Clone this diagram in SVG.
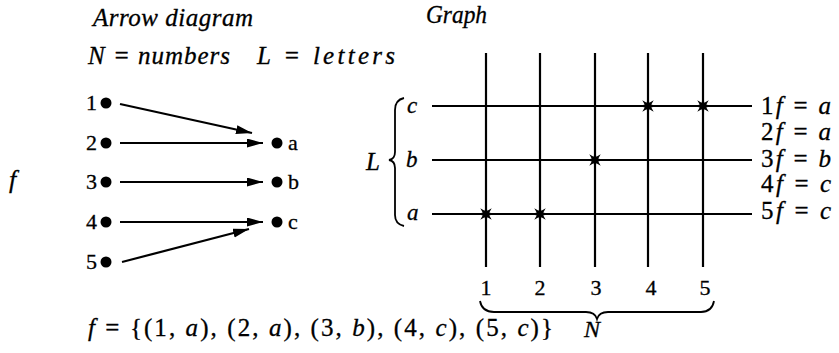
<svg xmlns="http://www.w3.org/2000/svg" width="839" height="353" viewBox="0 0 839 353" font-family="'Liberation Serif', 'Times New Roman', Times, serif">
<style>
text{fill:#000;stroke:#000;stroke-width:0.3}
.it{font-style:italic}
.t{font-size:25px}
.lbl{font-size:22px}
.dot{fill:#000}
.ln{stroke:#000;stroke-width:2.2;fill:none}
.arr{stroke:#000;stroke-width:2.2;fill:none;marker-end:url(#ah)}
.br{stroke:#000;stroke-width:1.8;fill:none}
</style>
<defs>
<marker id="ah" markerUnits="userSpaceOnUse" markerWidth="18" markerHeight="10" refX="16" refY="4.5" orient="auto">
<path d="M0,0 L16,4.5 L0,9 Z" fill="#000"/>
</marker>
<path id="star" d="M8,0 L3.3,1.4 L5.7,5.7 L1.4,3.3 L0,8 L-1.4,3.3 L-5.7,5.7 L-3.3,1.4 L-8,0 L-3.3,-1.4 L-5.7,-5.7 L-1.4,-3.3 L0,-8 L1.4,-3.3 L5.7,-5.7 L3.3,-1.4 Z" fill="#000"/>
</defs>

<g id="titles">
<text class="it t" x="93" y="26" textLength="160" lengthAdjust="spacing">Arrow diagram</text>
<text class="it t" x="426" y="23" textLength="61" lengthAdjust="spacingAndGlyphs">Graph</text>
<text class="it t" x="88" y="64" textLength="142" lengthAdjust="spacing">N = numbers</text>
<text class="it t" x="257" y="64" textLength="138" lengthAdjust="spacing">L = letters</text>
<text class="it" x="9" y="188" font-size="26">f</text>
</g>

<g id="n1"><text class="lbl" x="97" y="110" text-anchor="end">1</text><circle class="dot" cx="106" cy="103" r="5.5"/></g>
<g id="n2"><text class="lbl" x="97" y="150" text-anchor="end">2</text><circle class="dot" cx="106" cy="143" r="5.5"/></g>
<g id="n3"><text class="lbl" x="97" y="189" text-anchor="end">3</text><circle class="dot" cx="106" cy="182" r="5.5"/></g>
<g id="n4"><text class="lbl" x="97" y="229" text-anchor="end">4</text><circle class="dot" cx="106" cy="222" r="5.5"/></g>
<g id="n5"><text class="lbl" x="97" y="269" text-anchor="end">5</text><circle class="dot" cx="106" cy="262" r="5.5"/></g>
<g id="la"><circle class="dot" cx="277" cy="143" r="5.5"/><text class="lbl" x="288" y="150">a</text></g>
<g id="lb"><circle class="dot" cx="277" cy="182" r="5.5"/><text class="lbl" x="288" y="189">b</text></g>
<g id="lc"><circle class="dot" cx="277" cy="222" r="5.5"/><text class="lbl" x="288" y="229">c</text></g>

<g id="connectors">
<line class="arr" x1="120" y1="104" x2="252" y2="133"/>
<line class="arr" x1="120" y1="143" x2="263" y2="143"/>
<line class="arr" x1="120" y1="182" x2="263" y2="182"/>
<line class="arr" x1="120" y1="222" x2="263" y2="222"/>
<line class="arr" x1="122" y1="262" x2="249" y2="229"/>
</g>

<g id="graph">
<g id="grid">
<line class="ln" x1="486" y1="53" x2="486" y2="267"/>
<line class="ln" x1="540" y1="53" x2="540" y2="267"/>
<line class="ln" x1="595" y1="53" x2="595" y2="267"/>
<line class="ln" x1="648" y1="53" x2="648" y2="267"/>
<line class="ln" x1="703" y1="53" x2="703" y2="267"/>
<line class="ln" x1="432" y1="106" x2="752" y2="106"/>
<line class="ln" x1="432" y1="160" x2="752" y2="160"/>
<line class="ln" x1="432" y1="214" x2="752" y2="214"/>
</g>
<g id="marks">
<use href="#star" x="648" y="106"/>
<use href="#star" x="703" y="106"/>
<use href="#star" x="595" y="160"/>
<use href="#star" x="486" y="214"/>
<use href="#star" x="540" y="214"/>
</g>
<g id="ylabels">
<text class="it" x="407" y="113" font-size="23">c</text>
<text class="it" x="406" y="167" font-size="23">b</text>
<text class="it" x="407" y="220" font-size="23">a</text>
<text class="it" x="366" y="170" font-size="25">L</text>
<path class="br" d="M404,98 Q395,100 395,110 L395,152 Q395,159 389,160 Q395,161 395,168 L395,215 Q395,224 404,226"/>
</g>
<g id="xlabels">
<text class="lbl" x="486" y="295" text-anchor="middle">1</text>
<text class="lbl" x="540" y="295" text-anchor="middle">2</text>
<text class="lbl" x="596" y="295" text-anchor="middle">3</text>
<text class="lbl" x="651" y="295" text-anchor="middle">4</text>
<text class="lbl" x="705" y="295" text-anchor="middle">5</text>
<path class="br" d="M480,301 Q482,312 494,312 L586,312 Q595,312 597,319 Q599,312 608,312 L701,312 Q712,312 714,301"/>
<text class="it" x="584" y="337" font-size="24">N</text>
</g>
<g id="rlabels" font-size="25">
<text x="761" y="114" textLength="70" lengthAdjust="spacing">1<tspan class="it">f</tspan> = <tspan class="it">a</tspan></text>
<text x="761" y="140" textLength="70" lengthAdjust="spacing">2<tspan class="it">f</tspan> = <tspan class="it">a</tspan></text>
<text x="761" y="167" textLength="70" lengthAdjust="spacing">3<tspan class="it">f</tspan> = <tspan class="it">b</tspan></text>
<text x="761" y="192" textLength="70" lengthAdjust="spacing">4<tspan class="it">f</tspan> = <tspan class="it">c</tspan></text>
<text x="761" y="219" textLength="70" lengthAdjust="spacing">5<tspan class="it">f</tspan> = <tspan class="it">c</tspan></text>
</g>
</g>

<text id="formula" x="88" y="336" font-size="25" textLength="465" lengthAdjust="spacing"><tspan class="it">f</tspan> = {(1, <tspan class="it">a</tspan>), (2, <tspan class="it">a</tspan>), (3, <tspan class="it">b</tspan>), (4, <tspan class="it">c</tspan>), (5, <tspan class="it">c</tspan>)}</text>
</svg>
